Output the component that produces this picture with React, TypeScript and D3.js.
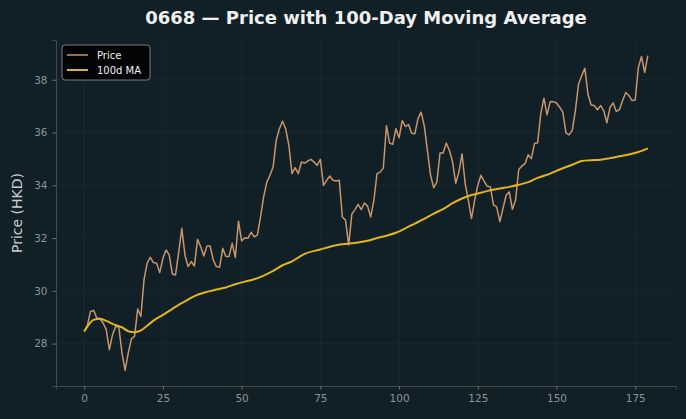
import React, { useEffect, useRef } from "react";
import * as d3 from "d3";

// daily closing price, days 0..179
const price = [
  28.46, 28.68, 29.22, 29.26, 28.97, 28.94, 28.78, 28.53, 27.77, 28.34,
  28.65, 28.63, 27.65, 26.99, 27.65, 28.18, 28.28, 29.31, 29.03, 30.42,
  31.05, 31.27, 31.07, 31.05, 30.69, 31.23, 31.55, 31.36, 30.64, 30.6,
  31.45, 32.37, 31.36, 30.92, 31.11, 30.94, 31.95, 31.67, 31.32, 31.7,
  31.7, 31.17, 30.92, 30.89, 31.61, 31.3, 31.3, 31.8, 31.26, 32.64,
  31.89, 32.01, 31.99, 32.22, 32.05, 32.11, 32.8, 33.56, 34.12, 34.38,
  34.69, 35.72, 36.14, 36.43, 36.14, 35.51, 34.44, 34.67, 34.44, 34.88,
  34.84, 34.92, 34.98, 34.88, 34.75, 34.98, 34.0, 34.19, 34.35, 34.19,
  34.16, 34.19, 32.8, 32.68, 31.74, 32.91, 33.08, 33.28, 33.08, 33.33,
  33.21, 32.8, 33.43, 34.44, 34.5, 34.65, 36.26, 35.6, 35.55, 36.14,
  35.8, 36.45, 36.23, 36.3, 35.97, 35.95, 36.52, 36.77, 36.26, 35.32,
  34.38, 33.91, 34.12, 35.22, 35.22, 35.6, 35.32, 34.88, 34.08, 34.5,
  35.19, 34.06, 33.43, 32.74, 33.43, 34.0, 34.38, 34.16, 33.96, 33.94,
  33.25, 33.18, 32.62, 33.12, 33.62, 33.75, 33.09, 33.43, 34.6, 34.73,
  34.82, 35.16, 35.01, 35.58, 35.61, 36.71, 37.3, 36.67, 37.17, 37.17,
  37.12, 36.96, 36.77, 35.99, 35.91, 36.08, 36.83, 37.84, 38.15, 38.43,
  37.45, 37.04, 37.02, 36.86, 37.02, 36.83, 36.37, 36.96, 37.12, 36.8,
  36.87, 37.21, 37.52, 37.4, 37.21, 37.23, 38.47, 38.88, 38.28, 38.91,
];

// 100-day moving average, read at these days
const maDays = [
  0, 2, 3, 5, 7, 10, 12, 14, 16, 18, 20, 22, 25, 28, 30, 32, 35, 38, 42, 45,
  48, 51, 54, 57, 60, 63, 66, 70, 75, 80, 85, 90, 93, 96, 99, 102, 105, 108,
  111, 114, 117, 120, 123, 126, 129, 132, 135, 138, 141, 144, 148, 151, 155,
  158, 161, 164, 167, 170, 173, 176, 179,
];
const maValues = [
  28.46, 28.8, 28.9, 28.94, 28.86, 28.7, 28.62, 28.47, 28.43, 28.5, 28.68,
  28.87, 29.09, 29.32, 29.47, 29.6, 29.8, 29.93, 30.05, 30.13, 30.25, 30.35,
  30.44, 30.58, 30.76, 30.97, 31.12, 31.4, 31.57, 31.73, 31.8, 31.9, 32.0,
  32.09, 32.2, 32.37, 32.55, 32.73, 32.93, 33.1, 33.32, 33.5, 33.63, 33.72,
  33.81, 33.88, 33.94, 34.02, 34.12, 34.28, 34.44, 34.6, 34.78, 34.92, 34.95,
  34.97, 35.03, 35.1, 35.17, 35.26, 35.4,
];

const xTicks = [0, 25, 50, 75, 100, 125, 150, 175];
const yTicks = [28, 30, 32, 34, 36, 38];

const BG = "#111f27";
const PRICE_COLOR = "#c8966a";
const MA_COLOR = "#e3b51c";
const TICK_COLOR = "#8b949a";
const FONT = "DejaVu Sans, sans-serif";

export default function App() {
  const svgRef = useRef<SVGSVGElement>(null);

  useEffect(() => {
    document.body.style.margin = "0";
    document.body.style.background = BG;

    const width = 686;
    const height = 419;
    const margin = { top: 40, right: 10, bottom: 33, left: 56 };

    const svg = d3.select(svgRef.current);
    svg.selectAll("*").remove();
    svg.attr("width", width).attr("height", height);

    svg.append("rect").attr("width", width).attr("height", height).attr("fill", BG);

    const n = price.length;
    const xPad = (n - 1) * 0.05;
    const x = d3.scaleLinear()
      .domain([-xPad, n - 1 + xPad])
      .range([margin.left, width - margin.right]);

    const lo = d3.min(price)!;
    const hi = d3.max(price)!;
    const yPad = (hi - lo) * 0.05;
    const y = d3.scaleLinear()
      .domain([lo - yPad, hi + yPad])
      .range([height - margin.bottom, margin.top]);

    // grid
    const grid = svg.append("g").attr("stroke", "#ffffff").attr("stroke-opacity", 0.05).attr("stroke-width", 0.8);
    xTicks.forEach(t => {
      grid.append("line")
        .attr("x1", x(t)).attr("x2", x(t))
        .attr("y1", margin.top).attr("y2", height - margin.bottom);
    });
    yTicks.forEach(t => {
      grid.append("line")
        .attr("x1", margin.left).attr("x2", width - margin.right)
        .attr("y1", y(t)).attr("y2", y(t));
    });

    // axes
    const xAxis = svg.append("g")
      .attr("transform", `translate(0,${height - margin.bottom})`)
      .call(d3.axisBottom(x).tickValues(xTicks).tickSize(3.5).tickPadding(5));
    const yAxis = svg.append("g")
      .attr("transform", `translate(${margin.left},0)`)
      .call(d3.axisLeft(y).tickValues(yTicks).tickSize(3.5).tickPadding(5));
    [xAxis, yAxis].forEach(ax => {
      ax.select(".domain").attr("stroke", "#4e5458").attr("stroke-width", 0.8);
      ax.selectAll(".tick line").attr("stroke", "#6b7277");
      ax.selectAll(".tick text")
        .attr("fill", TICK_COLOR)
        .style("font-family", FONT)
        .style("font-size", "10.5px");
    });

    // lines
    svg.append("path")
      .datum(price)
      .attr("fill", "none")
      .attr("stroke", PRICE_COLOR)
      .attr("stroke-width", 1.5)
      .attr("stroke-linejoin", "round")
      .attr("d", d3.line<number>().x((d, i) => x(i)).y(d => y(d)));

    svg.append("path")
      .datum(maDays.map((d, i) => [d, maValues[i]] as [number, number]))
      .attr("fill", "none")
      .attr("stroke", MA_COLOR)
      .attr("stroke-width", 2)
      .attr("stroke-linejoin", "round")
      .attr("d", d3.line<[number, number]>().x(d => x(d[0])).y(d => y(d[1])).curve(d3.curveMonotoneX));

    // title
    svg.append("text")
      .attr("x", (margin.left + width - margin.right) / 2)
      .attr("y", 24)
      .attr("text-anchor", "middle")
      .attr("fill", "#f0f0f0")
      .style("font-family", FONT)
      .style("font-size", "18px")
      .style("font-weight", "bold")
      .text("0668 — Price with 100-Day Moving Average");

    svg.append("text")
      .attr("transform", `translate(22,${(margin.top + height - margin.bottom) / 2}) rotate(-90)`)
      .attr("text-anchor", "middle")
      .attr("fill", "#c9cccf")
      .style("font-family", FONT)
      .style("font-size", "14px")
      .text("Price (HKD)");

    // legend
    const legend = svg.append("g").attr("transform", `translate(${margin.left + 6},${margin.top + 5})`);
    legend.append("rect")
      .attr("width", 88).attr("height", 35).attr("rx", 3)
      .attr("fill", "#000000").attr("fill-opacity", 0.85)
      .attr("stroke", "#9a9a9a").attr("stroke-width", 0.8);
    const items = [
      { label: "Price", color: PRICE_COLOR, w: 1.5 },
      { label: "100d MA", color: MA_COLOR, w: 2 },
    ];
    items.forEach((it, i) => {
      const g = legend.append("g").attr("transform", `translate(0,${10 + i * 15})`);
      g.append("line").attr("x1", 5).attr("x2", 26).attr("stroke", it.color).attr("stroke-width", it.w);
      g.append("text")
        .attr("x", 35).attr("dy", "0.35em")
        .attr("fill", "#f0f0f0")
        .style("font-family", FONT)
        .style("font-size", "10px")
        .text(it.label);
    });
  }, []);

  return <svg ref={svgRef} style={{ display: "block" }}></svg>;
}
